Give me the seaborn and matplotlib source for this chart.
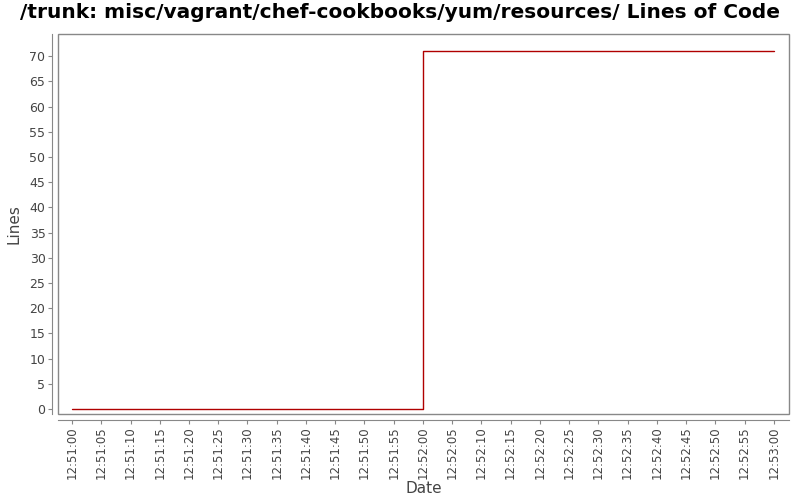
import pandas as pd
import seaborn as sns
import matplotlib
matplotlib.use("Agg")
import matplotlib.pyplot as plt
import matplotlib.dates as mdates

# Lines of code over time (step chart)
times = ["2013-01-01 12:51:00", "2013-01-01 12:52:00", "2013-01-01 12:53:00"]
lines = [0, 71, 71]

df = pd.DataFrame({"Date": pd.to_datetime(times), "Lines": lines})

sns.set_style("white")
fig = plt.figure(figsize=(8, 5), dpi=100)
ax = fig.add_axes([0.0725, 0.172, 0.91375, 0.76])

sns.lineplot(data=df, x="Date", y="Lines", ax=ax, color="#b00000",
             linewidth=1, drawstyle="steps-post")

start = df["Date"].min()
ax.set_xlim(start - pd.Timedelta(seconds=2.4), df["Date"].max() + pd.Timedelta(seconds=2.6))
ax.set_ylim(-1, 74.4)
ax.set_yticks(range(0, 71, 5))

ax.xaxis.set_major_locator(mdates.SecondLocator(bysecond=range(0, 60, 5)))
ax.xaxis.set_major_formatter(mdates.DateFormatter("%H:%M:%S"))
ax.tick_params(axis="x", labelrotation=90, labelsize=8.5)

# frame around plot, axes lines offset like the original
ax.patch.set_edgecolor("#888888")
ax.patch.set_linewidth(1)
for s in ["top", "right"]:
    ax.spines[s].set_visible(False)
for s in ["left", "bottom"]:
    ax.spines[s].set_position(("outward", 4))
    ax.spines[s].set_color("#888888")
ax.tick_params(axis="both", length=3, width=0.8, color="#888888",
               labelcolor="#444444", left=True, bottom=True, pad=2)
ax.tick_params(axis="y", labelsize=9)

ax.set_xlabel("Date", fontsize=11, color="#444444", labelpad=1)
ax.set_ylabel("Lines", fontsize=11, color="#444444", labelpad=6)
fig.suptitle("/trunk: misc/vagrant/chef-cookbooks/yum/resources/ Lines of Code",
             fontsize=14.5, fontweight="bold", color="black", y=0.995)

fig.savefig("out.png", dpi=100)
